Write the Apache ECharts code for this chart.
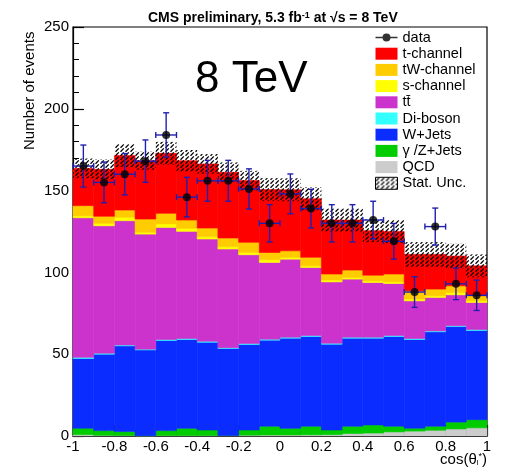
<!DOCTYPE html>
<html>
<head>
<meta charset="utf-8">
<script src="https://cdn.jsdelivr.net/npm/echarts@6/dist/echarts.min.js"></script>
<style>
  html, body { margin: 0; padding: 0; background: #fff; }
  #main { width: 510px; height: 469px; }
</style>
</head>
<body>
<div id="main"></div>
<script>
// bins of cos(theta*), 20 bins of 0.1
var binEdges = [-1, -0.9, -0.8, -0.7, -0.6, -0.5, -0.4, -0.3, -0.2, -0.1, 0,
                0.1, 0.2, 0.3, 0.4, 0.5, 0.6, 0.7, 0.8, 0.9, 1];

// stacked MC, bottom to top
var qcd       = [0.8, 0.4, 0.3, 0.2, 0.3, 0.3, 0.3, 0.3, 0.5, 0.6, 0.6, 0.7, 0.8, 1.5, 1.8, 2.5, 3.0, 3.5, 4.3, 5.0];
var gammaZ    = [4.0, 2.9, 2.4, 0, 3.0, 4.4, 3.4, 0, 3.2, 5.4, 4.1, 5.3, 2.9, 4.5, 5.0, 3.5, 1.8, 2.5, 4.2, 5.0];
var wJets     = [42.6, 46.7, 52.4, 52.4, 55.1, 54.3, 53.6, 53.2, 52.2, 52.6, 55.1, 54.8, 52.4, 53.8, 53.0, 54.8, 54.2, 57.7, 58.4, 54.5];
var diboson   = [0.7, 0.6, 0.5, 0.5, 0.6, 0.6, 0.6, 0.5, 0.6, 0.6, 0.6, 0.6, 0.6, 0.6, 0.6, 0.6, 0.6, 0.5, 0.5, 0.6];
var ttbar     = [85.3, 77.9, 76.0, 70.3, 68.5, 65.5, 62.5, 60.3, 54.3, 46.9, 47.7, 41.6, 37.5, 35.5, 33.4, 31.8, 23.0, 20.5, 18.9, 16.5];
var sChannel  = [1.2, 1.5, 2.1, 1.1, 2.1, 1.8, 1.4, 1.4, 1.4, 1.6, 1.1, 1.0, 1.1, 1.0, 1.0, 1.0, 1.1, 1.0, 1.4, 1.0];
var tWChannel = [6.2, 4.3, 4.4, 8.1, 6.5, 5.1, 5.3, 5.3, 6.2, 4.5, 4.0, 5.2, 3.7, 4.5, 3.5, 4.8, 5.0, 4.1, 4.1, 3.1];
var tChannel  = [22.8, 28.7, 33.3, 35.7, 36.7, 36.3, 39.2, 40.2, 37.7, 38.4, 37.3, 35.8, 33.0, 30.6, 27.2, 26.0, 22.3, 21.2, 18.2, 18.3];
var statUnc   = [6, 6, 7, 5.5, 7, 6.5, 6, 6, 6, 7, 7, 7, 7, 7, 7, 7, 7.5, 7.5, 7.5, 7];

// observed counts
var dataCounts = [165, 155, 160, 168, 184, 146, 156, 156, 151, 130, 148, 139, 130, 130, 132, 119, 88, 128, 93, 86];

var layers = [
  { name: 'QCD', values: qcd, color: '#cccccc' },
  { name: 'γ /Z+Jets', values: gammaZ, color: '#00cc00' },
  { name: 'W+Jets', values: wJets, color: '#0a2cff' },
  { name: 'Di-boson', values: diboson, color: '#33ffff' },
  { name: 't\u0074\u0304', values: ttbar, color: '#cc33cc' },
  { name: 's-channel', values: sChannel, color: '#ffff00' },
  { name: 'tW-channel', values: tWChannel, color: '#ffcc00' },
  { name: 't-channel', values: tChannel, color: '#ff0000' }
];

// hatch pattern for the stat. band
var hatch = document.createElement('canvas');
hatch.width = 5; hatch.height = 4;
var hc = hatch.getContext('2d');
hc.strokeStyle = '#000';
hc.lineWidth = 1.3;
hc.beginPath();
hc.moveTo(0.5, 3.8);
hc.lineTo(3.8, 0.4);
hc.stroke();
var hatchFill = { image: hatch, repeat: 'repeat' };

function rectItem(params, api) {
  var p0 = api.coord([api.value(0), api.value(3)]);
  var p1 = api.coord([api.value(1), api.value(2)]);
  var c = api.visual('color');
  return {
    type: 'rect',
    shape: { x: p0[0], y: p0[1], width: p1[0] - p0[0], height: p1[1] - p0[1] },
    style: { fill: c, stroke: c, lineWidth: 0.6 }
  };
}

var series = [];
var base = binEdges.slice(1).map(function () { return 0; });
layers.forEach(function (l) {
  var rows = [];
  for (var i = 0; i < l.values.length; i++) {
    rows.push([binEdges[i], binEdges[i + 1], base[i], base[i] + l.values[i]]);
    base[i] += l.values[i];
  }
  series.push({
    name: l.name,
    type: 'custom',
    renderItem: rectItem,
    itemStyle: { color: l.color },
    encode: { x: [0, 1], y: [2, 3] },
    data: rows,
    z: 2
  });
});

var total = base;
var bandRows = total.map(function (t, i) {
  return [binEdges[i], binEdges[i + 1], t - statUnc[i], t + statUnc[i]];
});
series.push({
  name: 'Stat. Unc.',
  type: 'custom',
  itemStyle: { color: hatchFill, borderColor: '#000', borderWidth: 1 },
  renderItem: function (params, api) {
    var p0 = api.coord([api.value(0), api.value(3)]);
    var p1 = api.coord([api.value(1), api.value(2)]);
    return {
      type: 'rect',
      shape: { x: p0[0], y: p0[1], width: p1[0] - p0[0], height: p1[1] - p0[1] },
      style: { fill: hatchFill }
    };
  },
  encode: { x: [0, 1], y: [2, 3] },
  data: bandRows,
  z: 3
});

// data with poisson errors
var errRows = dataCounts.map(function (n, i) {
  var e = Math.sqrt(n);
  return [(binEdges[i] + binEdges[i + 1]) / 2, n, n - e, n + e, binEdges[i], binEdges[i + 1]];
});
series.push({
  name: 'dataErr',
  type: 'custom',
  renderItem: function (params, api) {
    var c = api.coord([api.value(0), api.value(1)]);
    var lo = api.coord([api.value(0), api.value(2)]);
    var hi = api.coord([api.value(0), api.value(3)]);
    var l = api.coord([api.value(4), api.value(1)]);
    var r = api.coord([api.value(5), api.value(1)]);
    var st = { stroke: '#2020b0', lineWidth: 1.4 };
    return {
      type: 'group',
      children: [
        { type: 'line', shape: { x1: c[0], y1: lo[1], x2: c[0], y2: hi[1] }, style: st },
        { type: 'line', shape: { x1: c[0] - 3, y1: lo[1], x2: c[0] + 3, y2: lo[1] }, style: st },
        { type: 'line', shape: { x1: c[0] - 3, y1: hi[1], x2: c[0] + 3, y2: hi[1] }, style: st },
        { type: 'line', shape: { x1: l[0], y1: c[1], x2: r[0], y2: c[1] }, style: st },
        { type: 'line', shape: { x1: l[0], y1: c[1] - 3, x2: l[0], y2: c[1] + 3 }, style: st },
        { type: 'line', shape: { x1: r[0], y1: c[1] - 3, x2: r[0], y2: c[1] + 3 }, style: st }
      ]
    };
  },
  encode: { x: 0, y: [1, 2, 3] },
  data: errRows,
  z: 4
});
series.push({
  name: 'data',
  type: 'scatter',
  symbol: 'circle',
  symbolSize: 8,
  itemStyle: { color: '#000' },
  data: errRows.map(function (r) { return [r[0], r[1]]; }),
  z: 5
});

var chart = echarts.init(document.getElementById('main'), null, { renderer: 'canvas' });
var font = 'Liberation Sans, Arial, Helvetica, sans-serif';

var legendNames = ['data', 't-channel', 'tW-channel', 's-channel', 't\u0074\u0304', 'Di-boson', 'W+Jets', 'γ /Z+Jets', 'QCD', 'Stat. Unc.'];

chart.setOption({
  animation: false,
  backgroundColor: '#fff',
  title: {
    text: 'CMS preliminary, 5.3 fb{sup|-1} at √s = 8 TeV',
    left: 143,
    top: 6,
    textStyle: {
      fontFamily: font, fontSize: 14, fontWeight: 'bold', color: '#000',
      rich: { sup: { fontFamily: font, fontSize: 9, fontWeight: 'bold', verticalAlign: 'top', padding: [0, 0, 6, 0] } }
    }
  },
  legend: {
    orient: 'vertical',
    left: 375,
    top: 30,
    padding: 0,
    itemWidth: 22,
    itemHeight: 12,
    itemGap: 1.2,
    selectedMode: false,
    textStyle: { fontFamily: font, fontSize: 14.5, color: '#000', lineHeight: 15 },
    data: legendNames.map(function (n) {
      if (n === 'data') {
        return {
          name: n,
          icon: 'path://M0,5.3H7.6V6.7H0Z M14.4,5.3H22V6.7H14.4Z M7,6A4,4 0 1,1 15,6A4,4 0 1,1 7,6Z',
          itemStyle: { color: '#000' }
        };
      }
      if (n === 'Stat. Unc.') {
        return { name: n, icon: 'rect', itemStyle: { borderColor: '#000', borderWidth: 1 } };
      }
      return { name: n, icon: 'rect' };
    })
  },
  grid: {
    left: 73, right: 23, top: 27, bottom: 33,
    show: true, borderColor: '#000', borderWidth: 1.2, backgroundColor: 'transparent'
  },
  xAxis: {
    type: 'value',
    min: -1, max: 1, interval: 0.2,
    axisLine: { show: true, onZero: false, lineStyle: { color: '#000', width: 1.2 } },
    axisTick: { show: true, inside: true, length: 11, lineStyle: { color: '#000', width: 1.2 } },
    minorTick: { show: true, splitNumber: 4, length: 6, lineStyle: { color: '#000', width: 1 } },
    axisLabel: { fontFamily: font, fontSize: 15, color: '#000', margin: 3 },
    splitLine: { show: false }
  },
  yAxis: {
    type: 'value',
    min: 0, max: 250, interval: 50,
    axisLine: { show: true, onZero: false, lineStyle: { color: '#000', width: 1.2 } },
    axisTick: { show: true, inside: true, length: 11, lineStyle: { color: '#000', width: 1.2 } },
    minorTick: { show: true, splitNumber: 5, length: 6, lineStyle: { color: '#000', width: 1 } },
    axisLabel: { fontFamily: font, fontSize: 15, color: '#000', margin: 4 },
    splitLine: { show: false }
  },
  graphic: [
    {
      type: 'text', left: 195, top: 58, z: 10,
      style: { text: '8 TeV', font: '44px ' + font, fill: '#000' }
    },
    {
      type: 'text', x: 22, y: 150, rotation: Math.PI / 2, z: 10,
      style: { text: 'Number of events', font: '15px ' + font, fill: '#000', textAlign: 'left', textVerticalAlign: 'top' }
    },
    {
      type: 'text', right: 23, top: 452, z: 10,
      style: {
        text: 'cos(θ{sub|l}{sup|*})', font: '15px ' + font, fill: '#000',
        rich: {
          sub: { fontSize: 8, fontFamily: font, verticalAlign: 'bottom' },
          sup: { fontSize: 9, fontFamily: font, verticalAlign: 'top' }
        }
      }
    }
  ],
  series: series
});
</script>
</body>
</html>
